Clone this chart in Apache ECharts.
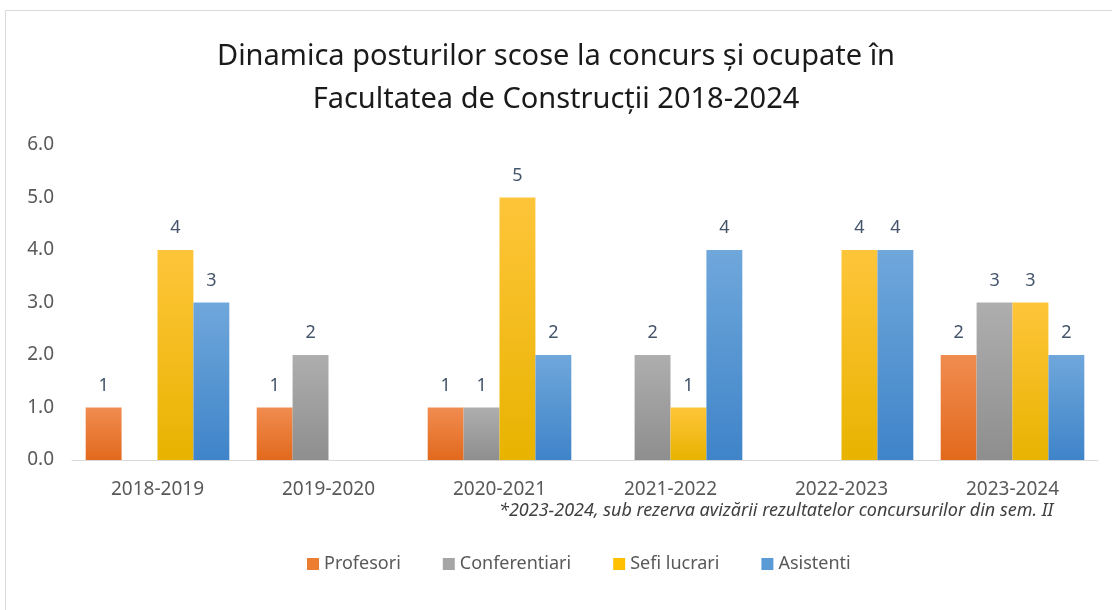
<!DOCTYPE html>
<html lang="ro">
<head>
<meta charset="UTF-8">
<title>Dinamica posturilor</title>
<style>
  html, body { margin: 0; padding: 0; background: #fff; }
  #chart { width: 1112px; height: 610px; }
</style>
</head>
<body>
<div id="chart"></div>
<script src="https://cdn.jsdelivr.net/npm/echarts@6/dist/echarts.min.js"></script>
<script>
var years = ['2018-2019', '2019-2020', '2020-2021', '2021-2022', '2022-2023', '2023-2024'];
var profesori = [1, 1, 1, null, null, 2];
var conferentiari = [null, 2, 1, 2, null, 3];
var sefiLucrari = [4, null, 5, 1, 4, 3];
var asistenti = [3, null, 2, 4, 4, 2];
var yTicks = [0, 1, 2, 3, 4, 5, 6];

var font = 'Noto Sans';

function grad(top, bottom) {
    return new echarts.graphic.LinearGradient(0, 0, 0, 1, [
        {offset: 0, color: top},
        {offset: 1, color: bottom}
    ]);
}

function barSeries(name, data, top, bottom, legendColor) {
    return {
        name: name,
        type: 'bar',
        data: data,
        barGap: '0%',
        barCategoryGap: '16%',
        itemStyle: {color: grad(top, bottom)},
        label: {
            show: true,
            position: 'top',
            distance: 13,
            color: '#44546a',
            fontFamily: font,
            fontSize: 18
        },
        legendColor: legendColor
    };
}

var chart = echarts.init(document.getElementById('chart'));
var series = [
    barSeries('Profesori', profesori, '#f08c50', '#e2691c', '#ed7d31'),
    barSeries('Conferentiari', conferentiari, '#aeaeae', '#8e8e8e', '#a5a5a5'),
    barSeries('Sefi lucrari', sefiLucrari, '#ffc53a', '#e8b300', '#ffc000'),
    barSeries('Asistenti', asistenti, '#6fa7db', '#3f84c9', '#5b9bd5')
];

chart.setOption({
    backgroundColor: '#fff',
    animation: false,
    title: {
        text: 'Dinamica posturilor scose la concurs și ocupate în\nFacultatea de Construcții 2018-2024',
        left: 'center',
        top: 30,
        textStyle: {
            fontFamily: font,
            fontWeight: 'normal',
            fontSize: 29,
            lineHeight: 43,
            color: '#1a1a1a'
        }
    },
    legend: {
        top: 550,
        left: 302,
        itemWidth: 12,
        itemHeight: 12,
        itemGap: 42,
        icon: 'rect',
        textStyle: {fontFamily: font, fontSize: 18, color: '#595959'},
        data: series.map(function (s) {
            return {name: s.name, itemStyle: {color: s.legendColor}};
        })
    },
    grid: {left: 72, right: 14, top: 145, bottom: 150},
    xAxis: {
        type: 'category',
        data: years,
        axisLine: {lineStyle: {color: '#d9d9d9', width: 1}},
        axisTick: {show: false},
        axisLabel: {fontFamily: font, fontSize: 19, color: '#595959', margin: 20}
    },
    yAxis: {
        type: 'value',
        min: yTicks[0],
        max: yTicks[yTicks.length - 1],
        interval: 1,
        splitLine: {show: false},
        axisLine: {show: false},
        axisTick: {show: false},
        axisLabel: {
            fontFamily: font, fontSize: 19, color: '#595959', margin: 18,
            formatter: function (v) { return v.toFixed(1); }
        }
    },
    graphic: [
        {
            type: 'rect',
            shape: {x: 5.5, y: 10.5, width: 1120, height: 620},
            style: {fill: 'none', stroke: '#d9d9d9', lineWidth: 1},
            silent: true
        },
        {
            type: 'text',
            left: 499,
            top: 502,
            style: {
                text: '*2023-2024, sub rezerva avizării rezultatelor concursurilor din sem. II',
                fontFamily: font,
                fontStyle: 'italic',
                fontSize: 18,
                fill: '#404040'
            }
        }
    ],
    series: series
});
</script>
</body>
</html>
